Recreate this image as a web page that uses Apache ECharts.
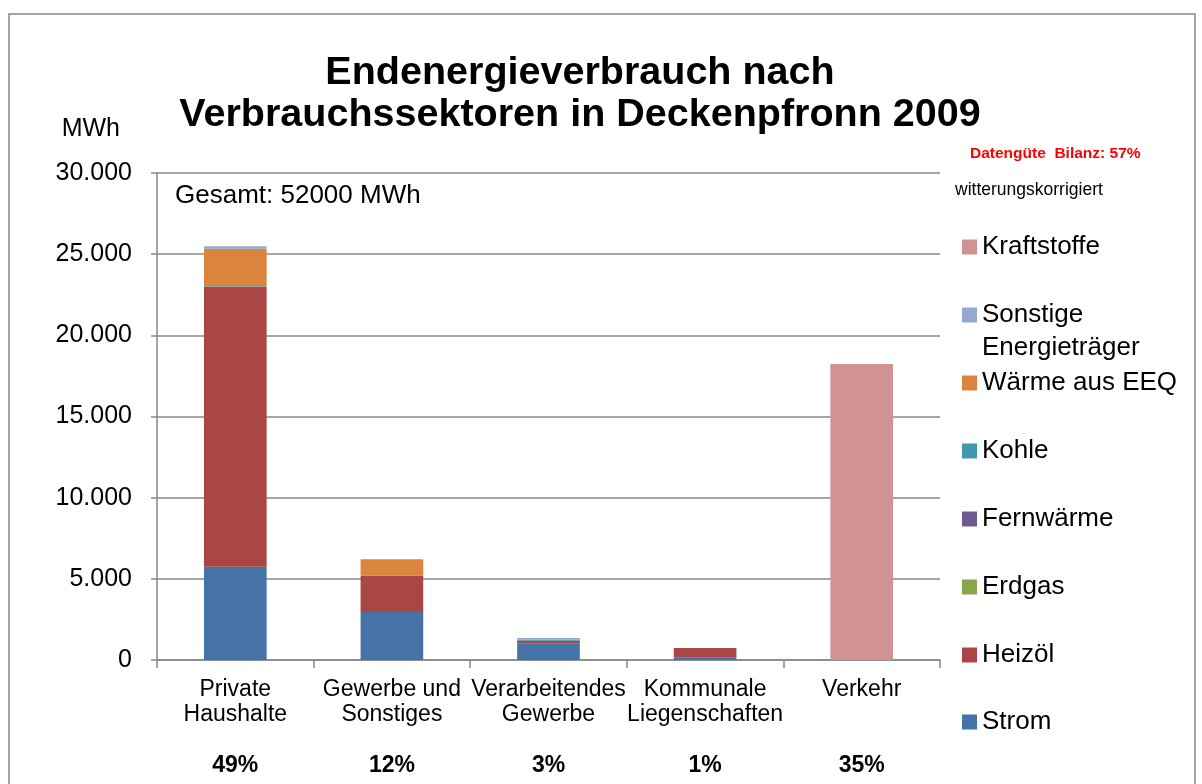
<!DOCTYPE html>
<html>
<head>
<meta charset="utf-8">
<script src="https://cdn.jsdelivr.net/npm/echarts@6/dist/echarts.min.js"></script>
<style>
  html, body { margin: 0; padding: 0; background: #fff; }
  #chart { width: 1202px; height: 784px; }
</style>
</head>
<body>
<div id="chart"></div>
<script>
// Sektoren (x-Achse)
var sectors = ['Private\nHaushalte', 'Gewerbe und\nSonstiges', 'Verarbeitendes\nGewerbe', 'Kommunale\nLiegenschaften', 'Verkehr'];
var shares = ['49%', '12%', '3%', '1%', '35%'];

// Werte in MWh, von unten nach oben gestapelt
var strom       = [5750, 2950, 1030, 140, 0];
var heizoel     = [17220, 2260, 160, 600, 0];
var erdgas      = [0, 0, 0, 0, 0];
var fernwaerme  = [0, 0, 0, 0, 0];
var kohle       = [60, 0, 60, 0, 0];
var waermeEEQ   = [2300, 1000, 0, 0, 0];
var sonstige    = [150, 0, 100, 0, 0];
var kraftstoffe = [0, 0, 0, 0, 18230];

var seriesNames = ['Strom', 'Heizöl', 'Erdgas', 'Fernwärme', 'Kohle', 'Wärme aus EEQ', 'Sonstige Energieträger', 'Kraftstoffe'];
var seriesData = [strom, heizoel, erdgas, fernwaerme, kohle, waermeEEQ, sonstige, kraftstoffe];
var colors = ['#4572A7', '#AA4643', '#89A54E', '#71588F', '#4198AF', '#DB843D', '#93A9CF', '#D19392'];

var font = '"Liberation Sans", Arial, sans-serif';

var chart = echarts.init(document.getElementById('chart'));

// Legende: jeder Eintrag einzeln positioniert (Mitte der Marke in px)
var legendCenters = [722, 655, 587, 519, 451, 383, 315, 247];
var legends = seriesNames.map(function (name, i) {
    var twoLines = name === 'Sonstige Energieträger';
    return {
        orient: 'vertical',
        left: 962,
        top: twoLines ? legendCenters[i] - 49.5 : legendCenters[i] - 15,
        data: [name],
        icon: 'rect',
        itemWidth: 15,
        itemHeight: 15,
        itemGap: 0,
        padding: 0,
        textGap: 6,
        selectedMode: false,
        // leere erste Zeile, damit die Marke neben "Sonstige" steht
        formatter: function (n) { return n === 'Sonstige Energieträger' ? ' \nSonstige\nEnergieträger' : n; },
        textStyle: { color: '#000', fontSize: 26, fontFamily: font, lineHeight: twoLines ? 33 : 30 }
    };
});

var series = seriesNames.map(function (name, i) {
    return {
        name: name,
        type: 'bar',
        stack: 'total',
        barWidth: '40%',
        data: seriesData[i],
        itemStyle: { color: colors[i] }
    };
});

var option = {
    backgroundColor: '#fff',
    animation: false,
    color: colors,
    title: {
        text: 'Endenergieverbrauch nach\nVerbrauchssektoren in Deckenpfronn 2009',
        left: 575,
        textAlign: 'center',
        top: 47,
        textStyle: { fontFamily: font, fontSize: 39.5, fontWeight: 'bold', color: '#000', lineHeight: 42 }
    },
    legend: legends,
    grid: { left: 157, right: 262, top: 173, bottom: 124, containLabel: false, outerBoundsMode: 'none' },
    xAxis: {
        type: 'category',
        data: sectors,
        axisLine: { lineStyle: { color: '#888', width: 1.5 } },
        axisTick: { show: true, length: 8, lineStyle: { color: '#888', width: 1.5 } },
        axisLabel: {
            margin: 17,
            interval: 0,
            fontFamily: font,
            fontSize: 23,
            color: '#000',
            lineHeight: 25,
            formatter: function (v, idx) {
                var name = v.indexOf('\n') < 0 ? v + '\n ' : v;
                return name + '\n{p|' + shares[idx] + '}';
            },
            rich: {
                p: { fontFamily: font, fontSize: 23, fontWeight: 'bold', color: '#000', lineHeight: 78 }
            }
        }
    },
    yAxis: {
        type: 'value',
        min: 0,
        max: 30000,
        interval: 5000,
        name: 'MWh',
        nameLocation: 'end',
        nameGap: 31,
        nameTextStyle: { fontFamily: font, fontSize: 25, color: '#000', align: 'right', padding: [0, 37, 0, 0] },
        axisLine: { show: true, lineStyle: { color: '#888', width: 1.5 } },
        axisTick: { show: true, length: 6, lineStyle: { color: '#888', width: 1.5 } },
        splitLine: { lineStyle: { color: '#888', width: 1.5 } },
        axisLabel: {
            margin: 25,
            fontFamily: font,
            fontSize: 25,
            color: '#000',
            formatter: function (v) { return v.toLocaleString('de-DE'); }
        }
    },
    graphic: [
        {
            type: 'rect',
            shape: { x: 9, y: 14, width: 1186, height: 800 },
            style: { fill: 'none', stroke: '#888', lineWidth: 1.5 },
            silent: true
        },
        {
            type: 'text',
            left: 175, top: 183,
            style: { text: 'Gesamt: 52000 MWh', fontFamily: font, fontSize: 26, fill: '#000' }
        },
        {
            type: 'text',
            left: 970, top: 146,
            style: { text: 'Datengüte  Bilanz: 57%', fontFamily: font, fontSize: 15.5, fontWeight: 'bold', fill: '#ff0000' }
        },
        {
            type: 'text',
            left: 955, top: 181,
            style: { text: 'witterungskorrigiert', fontFamily: font, fontSize: 17.5, fill: '#000' }
        }
    ],
    series: series
};

chart.setOption(option);
</script>
</body>
</html>
